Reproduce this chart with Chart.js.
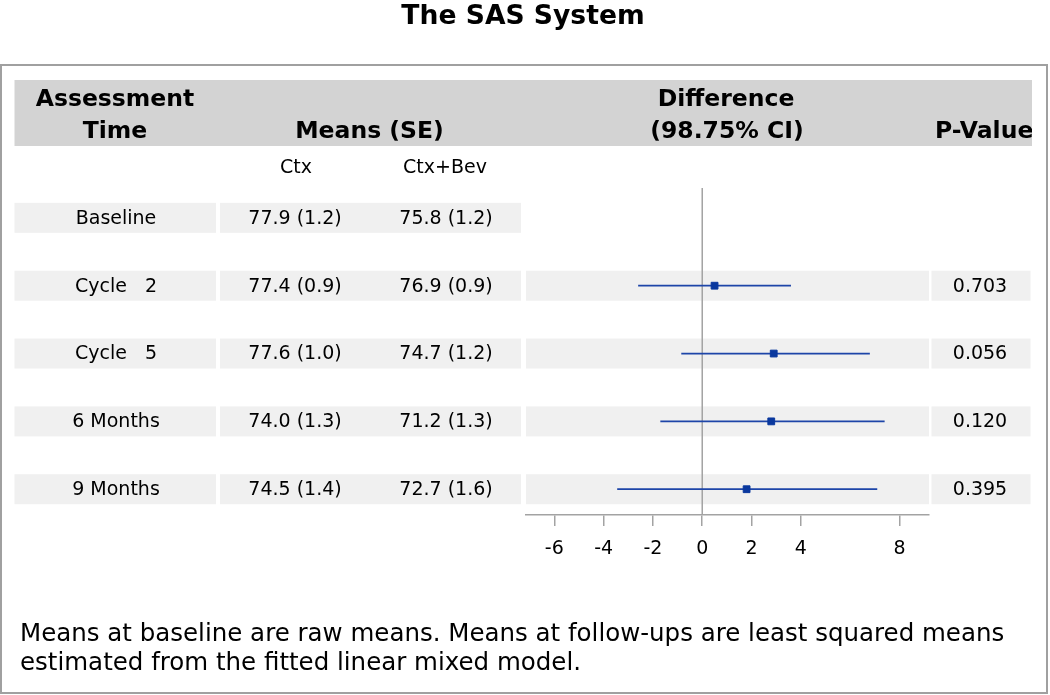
<!DOCTYPE html>
<html>
<head>
<meta charset="utf-8">
<title>The SAS System</title>
<script src="https://cdn.jsdelivr.net/npm/chart.js@4.4.1/dist/chart.umd.min.js"></script>
<style>
	body { margin: 0; background: #ffffff; }
	#wrap { width: 1050px; height: 695px; position: relative; }
</style>
</head>
<body>
<div id="wrap"><canvas id="forest"></canvas></div>
<script>
// table / forest plot values
var rowLabels = ['Baseline', 'Cycle   2', 'Cycle   5', '6 Months', '9 Months'];
var ctxMean = [77.9, 77.4, 77.6, 74.0, 74.5];
var ctxSE = [1.2, 0.9, 1.0, 1.3, 1.4];
var bevMean = [75.8, 76.9, 74.7, 71.2, 72.7];
var bevSE = [1.2, 0.9, 1.2, 1.3, 1.6];
var diffEst = [null, 0.5, 2.9, 2.8, 1.8];
var diffLow = [null, -2.6, -0.85, -1.7, -3.45];
var diffHigh = [null, 3.6, 6.8, 7.4, 7.1];
var pValues = [null, 0.703, 0.056, 0.120, 0.395];
var xTicks = [-6, -4, -2, 0, 2, 4, 8];
var groupLabels = ['Ctx', 'Ctx+Bev'];
var footnote = [
	'Means at baseline are raw means. Means at follow-ups are least squared means',
	'estimated from the fitted linear mixed model.'
];

var FONT = '"DejaVu Sans", Verdana, sans-serif';
var lineColor = '#1d45a8';
var markColor = '#0a389e';
var gridGrey = '#a3a3a3';

var datasets = [];
// reference line at zero
datasets.push({
	type: 'line',
	data: [{x: 0, y: -0.44}, {x: 0, y: 4.38}],
	borderColor: gridGrey,
	borderWidth: 1.5,
	pointRadius: 0,
	order: 3
});
for (var i = 0; i < rowLabels.length; i++) {
	if (diffEst[i] === null) continue;
	datasets.push({
		type: 'line',
		data: [{x: diffLow[i], y: i}, {x: diffHigh[i], y: i}],
		borderColor: lineColor,
		borderWidth: 1.8,
		pointRadius: 0,
		order: 2
	});
}
var estPoints = [];
for (var j = 0; j < rowLabels.length; j++) {
	if (diffEst[j] !== null) estPoints.push({x: diffEst[j], y: j});
}
datasets.push({
	type: 'scatter',
	data: estPoints,
	pointStyle: 'rect',
	pointRadius: 4.8,
	backgroundColor: markColor,
	borderColor: markColor,
	borderWidth: 1,
	order: 1
});

function txt(c, s, x, y, size, bold, align) {
	c.font = (bold ? 'bold ' : '') + size + 'px ' + FONT;
	c.textAlign = align || 'center';
	c.fillText(s, x, y);
}

var sasTable = {
	id: 'sasTable',
	beforeDraw: function(chart) {
		var c = chart.ctx;
		var ys = chart.scales.y;
		var xs = chart.scales.x;
		c.save();
		// outer frame
		c.strokeStyle = '#a0a0a0';
		c.lineWidth = 2;
		c.strokeRect(1, 65, 1046, 628);
		// header band
		c.fillStyle = '#d3d3d3';
		c.fillRect(14.5, 80, 1017.5, 66);
		// row bands
		c.fillStyle = '#f0f0f0';
		for (var i = 0; i < rowLabels.length; i++) {
			var py = ys.getPixelForValue(i);
			c.fillRect(14.5, py - 15, 201.5, 30);
			c.fillRect(220, py - 15, 301, 30);
			if (diffEst[i] !== null) {
				c.fillRect(xs.left, py - 15, xs.right - xs.left, 30);
				c.fillRect(xs.right + 2.5, py - 15, 99, 30);
			}
		}
		c.restore();
	},
	afterDraw: function(chart) {
		var c = chart.ctx;
		var ys = chart.scales.y;
		c.save();
		c.fillStyle = '#000000';
		c.textBaseline = 'alphabetic';
		txt(c, 'The SAS System', 523, 24, 26.6, true);
		// column headers
		txt(c, 'Assessment', 115, 105.5, 23.5, true);
		txt(c, 'Time', 115, 137.5, 23.5, true);
		txt(c, 'Means (SE)', 369.5, 137.5, 23.5, true);
		txt(c, 'Difference', 726, 105.5, 23.5, true);
		txt(c, '(98.75% CI)', 727, 137.5, 23.5, true);
		c.save();
		c.beginPath();
		c.rect(14.5, 80, 1017.5, 66);
		c.clip();
		txt(c, 'P-Value', 935, 137.5, 23.5, true, 'left');
		c.restore();
		txt(c, groupLabels[0], 296, 173, 19, false);
		txt(c, groupLabels[1], 445, 173, 19, false);
		// table rows
		c.textBaseline = 'middle';
		for (var i = 0; i < rowLabels.length; i++) {
			var py = ys.getPixelForValue(i) + 1;
			txt(c, rowLabels[i], 116, py, 19, false);
			txt(c, ctxMean[i].toFixed(1) + ' (' + ctxSE[i].toFixed(1) + ')', 295, py, 19, false);
			txt(c, bevMean[i].toFixed(1) + ' (' + bevSE[i].toFixed(1) + ')', 446, py, 19, false);
			if (pValues[i] !== null) {
				txt(c, pValues[i].toFixed(3), 980, py, 19, false);
			}
		}
		// footnote
		c.textBaseline = 'alphabetic';
		txt(c, footnote[0], 20, 641, 24.5, false, 'left');
		txt(c, footnote[1], 20, 670, 24.5, false, 'left');
		c.restore();
	}
};

var ctx = document.getElementById('forest').getContext('2d');
var chart = new Chart(ctx, {
	type: 'scatter',
	data: { datasets: datasets },
	plugins: [sasTable],
	options: {
		responsive: true,
		maintainAspectRatio: false,
		animation: false,
		events: [],
		layout: {
			padding: { left: 526, right: 121, top: 188, bottom: 140 }
		},
		plugins: {
			legend: { display: false },
			tooltip: { enabled: false },
			title: { display: false }
		},
		scales: {
			x: {
				type: 'linear',
				min: -7.15,
				max: 9.2,
				afterBuildTicks: function(scale) {
					scale.ticks = xTicks.map(function(v) { return {value: v}; });
				},
				afterFit: function(scale) {
					scale.height = 40;
				},
				grid: {
					drawOnChartArea: false,
					drawTicks: true,
					tickLength: 11,
					color: gridGrey,
					lineWidth: 1.5
				},
				border: { color: gridGrey, width: 1.5 },
				ticks: {
					color: '#000000',
					padding: 12,
					maxRotation: 0,
					autoSkip: false,
					font: { family: FONT, size: 19 }
				}
			},
			y: {
				type: 'linear',
				reverse: true,
				min: -0.44,
				max: 4.38,
				display: false
			}
		}
	}
});
</script>
</body>
</html>
